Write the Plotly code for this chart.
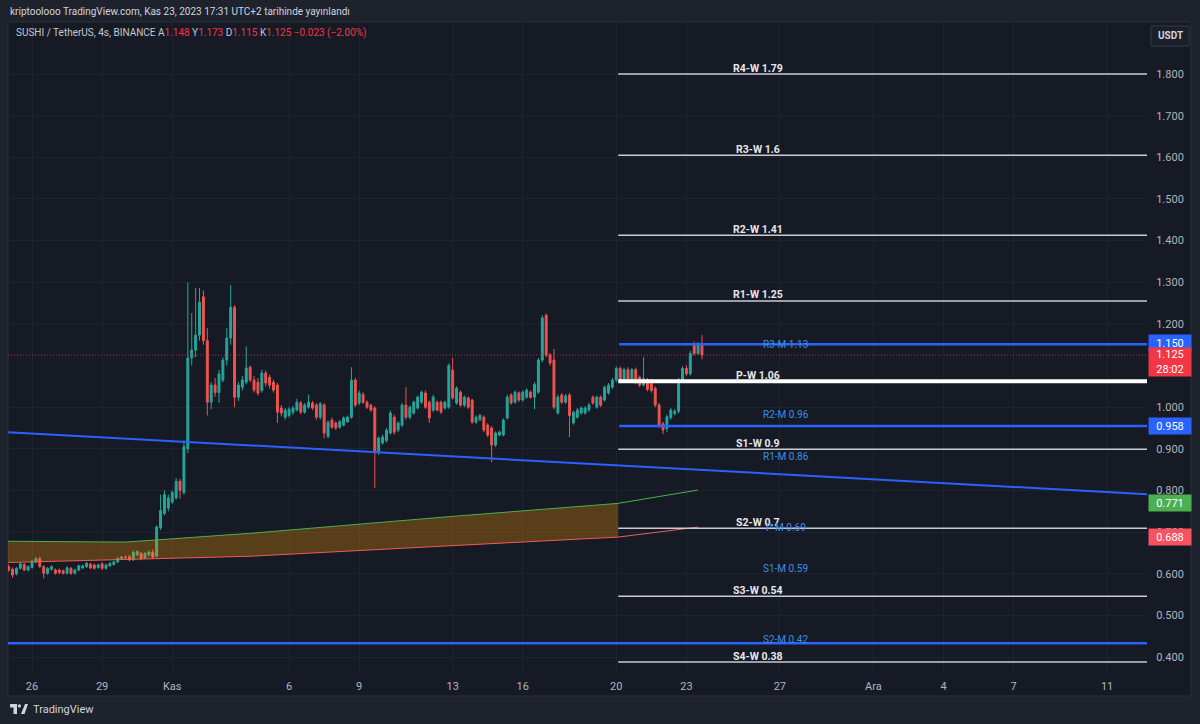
import plotly.graph_objects as go
import pandas as pd

# ---------------- data ----------------
opens = [
    0.617, 0.611, 0.600, 0.613, 0.622, 0.609, 0.615, 0.628, 0.636, 0.617,
    0.601, 0.611, 0.609, 0.609, 0.607, 0.601, 0.613, 0.601, 0.609, 0.614,
    0.617, 0.623, 0.621, 0.615, 0.624, 0.613, 0.619, 0.622, 0.628, 0.637,
    0.640, 0.641, 0.633, 0.645, 0.649, 0.638, 0.645, 0.652, 0.642, 0.710,
    0.745, 0.758, 0.772, 0.782, 0.822, 0.795, 0.900, 1.118, 1.137, 1.173,
    1.265, 1.160, 1.012, 1.053, 1.035, 1.065, 1.113, 1.166, 1.240, 1.024,
    1.048, 1.060, 1.096, 1.065, 1.060, 1.040, 1.082, 1.072, 1.060, 1.053,
    0.998, 0.976, 0.980, 0.988, 0.993, 1.010, 0.988, 1.000, 1.010, 1.005,
    0.976, 1.005, 0.930, 0.969, 0.962, 0.952, 0.957, 0.965, 0.976, 1.065,
    1.010, 1.030, 1.012, 1.005, 0.998, 0.892, 0.914, 0.920, 0.938, 0.976,
    0.945, 0.957, 1.005, 0.976, 0.986, 0.998, 1.012, 1.034, 1.012, 0.993,
    1.012, 1.012, 0.998, 1.000, 1.089, 1.010, 1.036, 1.005, 1.022, 1.017,
    0.964, 0.970, 0.976, 0.957, 0.950, 0.909, 0.933, 0.933, 0.974, 1.029,
    1.012, 1.034, 1.017, 1.024, 1.036, 1.024, 1.036, 1.113, 1.221, 1.125,
    1.113, 0.986, 1.029, 1.012, 1.029, 0.962, 0.976, 0.986, 0.986, 0.993,
    1.024, 1.000, 1.024, 1.017, 1.034, 1.048, 1.065, 1.093, 1.065, 1.090,
    1.062, 1.090, 1.072, 1.053, 1.065, 1.063, 1.045, 1.005, 0.960, 0.949,
    0.975, 0.985, 0.990, 1.065, 1.093, 1.080, 1.153, 1.129, 1.148,
]
highs = [
    0.622, 0.615, 0.616, 0.628, 0.626, 0.620, 0.633, 0.640, 0.641, 0.620,
    0.616, 0.620, 0.613, 0.612, 0.610, 0.618, 0.616, 0.612, 0.622, 0.622,
    0.628, 0.626, 0.624, 0.624, 0.627, 0.624, 0.628, 0.631, 0.640, 0.643,
    0.644, 0.645, 0.656, 0.657, 0.652, 0.652, 0.656, 0.658, 0.716, 0.790,
    0.800, 0.790, 0.800, 0.830, 0.828, 0.920, 1.300, 1.226, 1.286, 1.286,
    1.280, 1.190, 1.060, 1.070, 1.090, 1.120, 1.190, 1.293, 1.245, 1.060,
    1.075, 1.146, 1.100, 1.075, 1.070, 1.090, 1.088, 1.078, 1.066, 1.058,
    1.005, 0.998, 1.000, 1.003, 1.020, 1.015, 1.010, 1.030, 1.015, 1.010,
    1.012, 1.010, 0.968, 0.975, 0.966, 0.969, 0.978, 0.980, 1.096, 1.070,
    1.040, 1.036, 1.016, 1.008, 1.002, 0.930, 0.934, 0.950, 0.992, 0.982,
    0.966, 1.010, 1.048, 1.004, 1.016, 1.028, 1.040, 1.040, 1.016, 1.030,
    1.016, 1.016, 1.016, 1.105, 1.118, 1.050, 1.040, 1.028, 1.026, 1.020,
    0.980, 0.984, 0.980, 0.962, 0.955, 0.942, 0.944, 0.973, 1.030, 1.034,
    1.040, 1.038, 1.040, 1.045, 1.040, 1.060, 1.118, 1.221, 1.225, 1.130,
    1.140, 1.030, 1.034, 1.032, 1.034, 0.992, 0.998, 1.002, 1.002, 1.010,
    1.028, 1.028, 1.028, 1.052, 1.058, 1.070, 1.098, 1.098, 1.095, 1.096,
    1.094, 1.095, 1.076, 1.120, 1.070, 1.068, 1.050, 1.010, 0.965, 0.982,
    0.998, 0.996, 1.070, 1.098, 1.100, 1.135, 1.158, 1.156, 1.173,
]
lows = [
    0.605, 0.590, 0.596, 0.610, 0.606, 0.605, 0.612, 0.625, 0.614, 0.589,
    0.597, 0.607, 0.598, 0.599, 0.598, 0.598, 0.597, 0.598, 0.606, 0.611,
    0.614, 0.611, 0.610, 0.612, 0.609, 0.610, 0.616, 0.620, 0.626, 0.634,
    0.636, 0.630, 0.631, 0.643, 0.632, 0.635, 0.642, 0.636, 0.640, 0.705,
    0.740, 0.750, 0.768, 0.778, 0.780, 0.790, 0.890, 1.100, 1.120, 1.160,
    1.150, 0.980, 0.995, 1.025, 1.010, 1.060, 1.100, 1.150, 1.000, 1.015,
    1.040, 1.055, 1.060, 1.035, 1.028, 1.035, 1.050, 1.045, 1.035, 0.962,
    0.978, 0.970, 0.975, 0.982, 0.990, 0.983, 0.984, 0.996, 0.993, 0.970,
    0.970, 0.925, 0.925, 0.948, 0.945, 0.948, 0.954, 0.962, 0.972, 1.000,
    1.005, 1.008, 0.996, 0.989, 0.806, 0.885, 0.910, 0.915, 0.934, 0.934,
    0.940, 0.952, 0.970, 0.970, 0.982, 0.994, 1.008, 0.996, 0.962, 0.988,
    0.990, 0.984, 0.994, 0.996, 1.018, 1.006, 1.000, 1.000, 0.996, 0.960,
    0.960, 0.966, 0.940, 0.928, 0.868, 0.904, 0.930, 0.930, 0.970, 1.006,
    1.008, 1.013, 1.013, 1.020, 1.020, 0.995, 1.032, 1.108, 1.120, 1.100,
    0.995, 0.982, 1.008, 1.008, 0.928, 0.958, 0.972, 0.982, 0.982, 0.989,
    1.006, 0.996, 1.000, 1.013, 1.030, 1.044, 1.060, 1.060, 1.060, 1.058,
    1.058, 1.055, 1.048, 1.050, 1.038, 1.035, 1.000, 0.950, 0.935, 0.940,
    0.970, 0.980, 0.985, 1.060, 1.075, 1.076, 1.124, 1.125, 1.115,
]
closes = [
    0.609, 0.597, 0.613, 0.624, 0.609, 0.617, 0.630, 0.636, 0.617, 0.601,
    0.613, 0.617, 0.601, 0.603, 0.601, 0.614, 0.601, 0.609, 0.619, 0.619,
    0.625, 0.614, 0.613, 0.621, 0.613, 0.621, 0.625, 0.628, 0.637, 0.640,
    0.639, 0.633, 0.651, 0.653, 0.636, 0.649, 0.652, 0.640, 0.712, 0.752,
    0.790, 0.782, 0.795, 0.822, 0.800, 0.905, 1.118, 1.137, 1.173, 1.252,
    1.160, 1.012, 1.053, 1.035, 1.080, 1.113, 1.166, 1.240, 1.024, 1.053,
    1.065, 1.094, 1.065, 1.041, 1.034, 1.082, 1.058, 1.053, 1.041, 0.988,
    0.986, 0.993, 0.995, 0.998, 1.012, 0.988, 1.005, 1.012, 0.998, 0.976,
    1.008, 0.938, 0.964, 0.952, 0.950, 0.965, 0.974, 0.976, 1.065, 1.005,
    1.034, 1.012, 1.000, 0.993, 0.892, 0.926, 0.928, 0.945, 0.986, 0.940,
    0.962, 1.005, 0.976, 1.000, 1.012, 1.024, 1.036, 1.000, 0.974, 1.024,
    0.993, 0.988, 1.012, 1.100, 1.022, 1.046, 1.005, 1.024, 1.000, 0.964,
    0.976, 0.980, 0.945, 0.933, 0.909, 0.938, 0.940, 0.969, 1.024, 1.010,
    1.036, 1.017, 1.036, 1.041, 1.024, 1.055, 1.113, 1.214, 1.125, 1.106,
    1.000, 1.024, 1.012, 1.027, 0.980, 0.988, 0.993, 0.998, 0.998, 1.005,
    1.010, 1.024, 1.005, 1.048, 1.053, 1.065, 1.093, 1.065, 1.090, 1.062,
    1.090, 1.060, 1.053, 1.068, 1.043, 1.040, 1.005, 0.955, 0.945, 0.977,
    0.993, 0.990, 1.065, 1.093, 1.080, 1.129, 1.129, 1.153, 1.125,
]
first_bar = "2023-10-25 00:00"
bar_times = pd.date_range(first_bar, periods=len(closes), freq="4h")

x_range = ["2023-10-24 23:20", "2023-12-12 17:00"]
y_range = [0.364, 1.925]

tick_dates = ["2023-10-26", "2023-10-29", "2023-11-01", "2023-11-06", "2023-11-09",
              "2023-11-13", "2023-11-16", "2023-11-20", "2023-11-23", "2023-11-27",
              "2023-12-01", "2023-12-04", "2023-12-07", "2023-12-11"]
tick_text = ["26", "29", "Kas", "6", "9", "13", "16", "20", "23", "27", "Ara", "4", "7", "11"]
price_ticks = [0.4, 0.5, 0.6, 0.7, 0.8, 0.9, 1.0, 1.2, 1.3, 1.4, 1.5, 1.6, 1.7, 1.8]

# weekly pivots (white lines)
weekly_names = ["R4-W 1.79", "R3-W 1.6", "R2-W 1.41", "R1-W 1.25", "P-W 1.06",
                "S1-W 0.9", "S2-W 0.7", "S3-W 0.54", "S4-W 0.38"]
weekly_levels = [1.800, 1.605, 1.413, 1.255, 1.062, 0.899, 0.709, 0.546, 0.388]
weekly_start = "2023-11-20 02:00"
weekly_label_x = "2023-11-26 02:00"

# monthly pivot labels (blue text)
monthly_names = ["R3-M 1.13", "R2-M 0.96", "R1-M 0.86", "P-M 0.69", "S1-M 0.59", "S2-M 0.42"]
monthly_levels = [1.13, 0.96, 0.86, 0.69, 0.59, 0.42]
monthly_label_x = "2023-11-27 06:00"

# blue horizontal lines
blue_levels = [1.151, 0.955]
blue_start = "2023-11-20 03:00"
blue_full_level = 0.433

# descending trend line
trend_dates = ["2023-10-24 23:20", "2023-12-12 17:00"]
trend_values = [0.940, 0.791]

# band (upper green / lower red)
band_dates = ["2023-10-24 23:20", "2023-10-30 00:00", "2023-11-04 08:00",
              "2023-11-12 20:00", "2023-11-20 02:00", "2023-11-23 12:00"]
band_upper = [0.678, 0.676, 0.697, 0.737, 0.769, 0.801]
band_lower = [0.627, 0.634, 0.642, 0.667, 0.688, 0.712]
band_fill_points = 5

last_price = 1.125

# price-scale badges
badge_values = [1.155, 0.955, 0.769, 0.688]
badge_texts = ["1.150", "0.958", "0.771", "0.688"]
badge_colors = ["#2962ff", "#2962ff", "#4caf50", "#f7525f"]

# ---------------- layout helpers ----------------
W, H = 1200, 724
PL, PR, PT, PB = 8, 1147, 22, 672


def pxx(v):
    return (v - PL) / (PR - PL)


def pyy(v):
    return (PB - v) / (PB - PT)


BG = "#161a25"
OUTER = "#1e222d"
GRID = "#1f2330"
FONT = "Roboto"

fig = go.Figure()

# band fill
fig.add_trace(go.Scatter(x=band_dates[:band_fill_points], y=band_lower[:band_fill_points],
                         mode="lines", line=dict(width=0), hoverinfo="skip", showlegend=False))
fig.add_trace(go.Scatter(x=band_dates[:band_fill_points], y=band_upper[:band_fill_points],
                         mode="lines", line=dict(width=0), fill="tonexty",
                         fillcolor="rgba(255,152,0,0.29)", hoverinfo="skip", showlegend=False))
fig.add_trace(go.Scatter(x=band_dates, y=band_upper, mode="lines",
                         line=dict(color="#4caf50", width=1), hoverinfo="skip", showlegend=False))
fig.add_trace(go.Scatter(x=band_dates, y=band_lower, mode="lines",
                         line=dict(color="#f05a5a", width=1), hoverinfo="skip", showlegend=False))

# weekly lines
wx, wy, pwx, pwy = [], [], [], []
for name, lv in zip(weekly_names, weekly_levels):
    if name.startswith("P-W"):
        pwx += [weekly_start, x_range[1]]
        pwy += [lv, lv]
    else:
        wx += [weekly_start, x_range[1], None]
        wy += [lv, lv, None]
fig.add_trace(go.Scatter(x=wx, y=wy, mode="lines", line=dict(color="#c9cbd1", width=1.5),
                         hoverinfo="skip", showlegend=False))
fig.add_trace(go.Scatter(x=pwx, y=pwy, mode="lines", line=dict(color="#ffffff", width=4),
                         hoverinfo="skip", showlegend=False))

# blue lines
bx, by = [], []
for lv in blue_levels:
    bx += [blue_start, x_range[1], None]
    by += [lv, lv, None]
bx += [x_range[0], x_range[1]]
by += [blue_full_level, blue_full_level]
fig.add_trace(go.Scatter(x=bx, y=by, mode="lines", line=dict(color="#2962ff", width=2.5),
                         hoverinfo="skip", showlegend=False))
fig.add_trace(go.Scatter(x=trend_dates, y=trend_values, mode="lines",
                         line=dict(color="#2962ff", width=2), hoverinfo="skip", showlegend=False))

# last price dotted line
fig.add_trace(go.Scatter(x=x_range, y=[last_price, last_price], mode="lines",
                         line=dict(color="rgba(242,54,69,0.75)", width=1, dash="1px,2px"),
                         hoverinfo="skip", showlegend=False))

# candles
fig.add_trace(go.Candlestick(
    x=bar_times, open=opens, high=highs, low=lows, close=closes,
    increasing=dict(line=dict(color="#26a69a", width=1), fillcolor="#26a69a"),
    decreasing=dict(line=dict(color="#ef5350", width=1), fillcolor="#ef5350"),
    whiskerwidth=0, showlegend=False, hoverinfo="skip"))

annotations = []
# weekly labels
for name, lv in zip(weekly_names, weekly_levels):
    annotations.append(dict(x=weekly_label_x, y=lv, xref="x", yref="y", text="<b>" + name + "</b>",
                            showarrow=False, xanchor="center", yanchor="middle", yshift=6,
                            font=dict(family=FONT, size=10.5, color="#e6e7ea")))
for name, lv in zip(monthly_names, monthly_levels):
    annotations.append(dict(x=monthly_label_x, y=lv, xref="x", yref="y", text=name,
                            showarrow=False, xanchor="center", yanchor="middle", yshift=9,
                            font=dict(family=FONT, size=10, color="#3b8ee8")))

# badges on price scale
for v, t, c in zip(badge_values, badge_texts, badge_colors):
    annotations.append(dict(x=1, y=v, xref="paper", yref="y", text=t, showarrow=False,
                            xanchor="left", yanchor="middle", xshift=1, bgcolor=c,
                            width=40, height=14, borderpad=1, align="center",
                            font=dict(family=FONT, size=11, color="#ffffff")))
annotations.append(dict(x=1, y=last_price, xref="paper", yref="y", text="1.125<br>28:02",
                        showarrow=False, xanchor="left", yanchor="top", xshift=1, yshift=8,
                        bgcolor="#f23645", width=40, height=26, borderpad=1, align="center",
                        font=dict(family=FONT, size=11, color="#ffffff")))

# header texts
annotations.append(dict(x=pxx(8), y=pyy(11), xref="paper", yref="paper", showarrow=False,
                        xanchor="left", yanchor="middle",
                        text="kriptoolooo TradingView.com, Kas 23, 2023 17:31 UTC+2 tarihinde yayınlandı",
                        font=dict(family=FONT, size=10, color="#d1d4dc")))
red = "#f23645"
legend_txt = ("SUSHI / TetherUS, 4s, BINANCE A<span style='color:%s'>1.148</span> "
              "Y<span style='color:%s'>1.173</span> D<span style='color:%s'>1.115</span> "
              "K<span style='color:%s'>1.125</span> <span style='color:%s'>−0.023 (−2.00%%)</span>"
              % (red, red, red, red, red))
annotations.append(dict(x=pxx(14), y=pyy(33), xref="paper", yref="paper", showarrow=False,
                        xanchor="left", yanchor="middle", text=legend_txt,
                        font=dict(family=FONT, size=10, color="#c4c7cf")))
annotations.append(dict(x=pxx(1170), y=pyy(36), xref="paper", yref="paper", showarrow=False,
                        xanchor="center", yanchor="middle", text="<b>USDT</b>",
                        font=dict(family=FONT, size=10, color="#d1d4dc")))
annotations.append(dict(x=pxx(31), y=pyy(709), xref="paper", yref="paper", showarrow=False,
                        xanchor="left", yanchor="middle", text="TradingView",
                        font=dict(family=FONT, size=11, color="#d1d4dc")))

shapes = [
    # chart pane
    dict(type="rect", xref="paper", yref="paper", x0=pxx(8), x1=pxx(1191), y0=pyy(696), y1=pyy(22),
         fillcolor=BG, line=dict(color="#2a2e39", width=1), layer="below"),
    # USDT button
    dict(type="rect", xref="paper", yref="paper", x0=pxx(1151), x1=pxx(1189), y0=pyy(46), y1=pyy(26),
         fillcolor="#1b1f2a", line=dict(color="#363a45", width=1), layer="above"),
    # TradingView logo
    dict(type="rect", xref="paper", yref="paper", x0=pxx(10), x1=pxx(17), y0=pyy(707.5), y1=pyy(704),
         fillcolor="#d1d4dc", line=dict(width=0)),
    dict(type="rect", xref="paper", yref="paper", x0=pxx(13.5), x1=pxx(17), y0=pyy(714), y1=pyy(704),
         fillcolor="#d1d4dc", line=dict(width=0)),
    dict(type="circle", xref="paper", yref="paper", x0=pxx(17.8), x1=pxx(21), y0=pyy(707.5), y1=pyy(704.3),
         fillcolor="#d1d4dc", line=dict(width=0)),
    dict(type="path", xref="paper", yref="paper",
         path="M %f %f L %f %f L %f %f L %f %f Z" % (pxx(21), pyy(714), pxx(25), pyy(704),
                                                    pxx(28), pyy(704), pxx(24.5), pyy(714)),
         fillcolor="#d1d4dc", line=dict(width=0)),
]

fig.update_layout(
    width=W, height=H,
    margin=dict(l=PL, r=W - PR, t=PT, b=H - PB, pad=0),
    paper_bgcolor=OUTER, plot_bgcolor=BG,
    showlegend=False,
    font=dict(family=FONT, size=11, color="#b2b5be"),
    annotations=annotations, shapes=shapes,
    xaxis=dict(type="date", range=x_range, tickvals=tick_dates, ticktext=tick_text,
               showgrid=True, gridcolor=GRID, gridwidth=1, zeroline=False, showline=False,
               ticks="outside", ticklen=4, tickcolor=BG, rangeslider=dict(visible=False),
               tickfont=dict(family=FONT, size=11, color="#b2b5be"), fixedrange=True),
    yaxis=dict(range=y_range, side="right", tickvals=price_ticks, tickformat=".3f",
               showgrid=True, gridcolor=GRID, gridwidth=1, zeroline=False, showline=False,
               ticks="outside", ticklen=6, tickcolor=BG,
               tickfont=dict(family=FONT, size=11, color="#b2b5be"), fixedrange=True),
)

fig.write_html("out.html")
